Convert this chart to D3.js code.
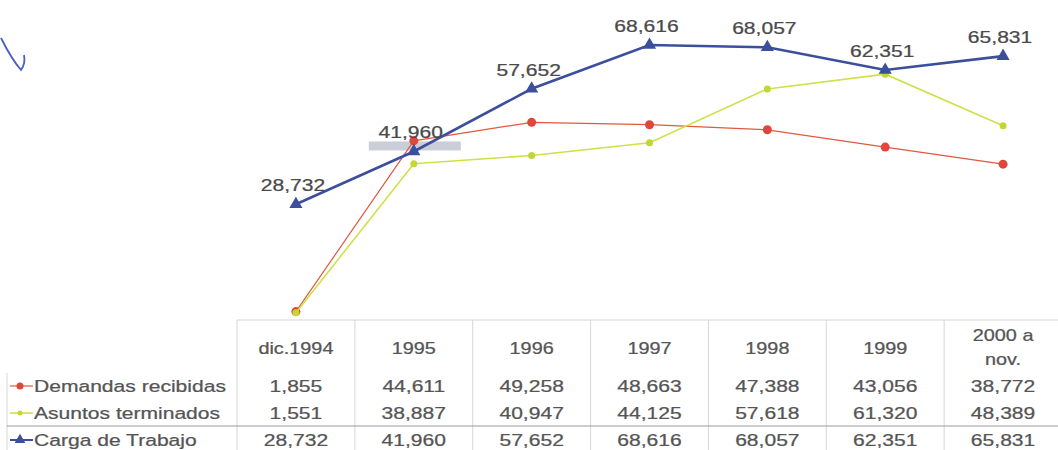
<!DOCTYPE html>
<html>
<head>
<meta charset="utf-8">
<script src="https://cdn.jsdelivr.net/npm/d3@7"></script>
<style>
  body { margin: 0; background: #fff; }
  svg { font-family: "Liberation Sans", Arial, sans-serif; }
</style>
</head>
<body>
<svg id="chart"></svg>
<script>
// Data
const periods = ["dic.1994", "1995", "1996", "1997", "1998", "1999", "2000 a\nnov."];
const seriesNames = ["Demandas recibidas", "Asuntos terminados", "Carga de Trabajo"];
const demandas = [1855, 44611, 49258, 48663, 47388, 43056, 38772];
const asuntos = [1551, 38887, 40947, 44125, 57618, 61320, 48389];
const carga = [28732, 41960, 57652, 68616, 68057, 62351, 65831];

const W = 1058, H = 450;
const stretch = 1.24; // the scan is a bit wider than tall

const svg = d3.select("#chart").attr("width", W).attr("height", H);

const x = d3.scaleBand().domain(periods).range([237, 1062]);
const y = d3.scaleLinear().domain([0, 70000]).range([319, 39.5]);
const cx = d => x(d) + x.bandwidth() / 2;

const fmt = d3.format(",");

function label(g, px, py, str, anchor, size, color) {
    g.append("text")
        .attr("transform", `translate(${px},${py}) scale(${stretch},1)`)
        .attr("text-anchor", anchor)
        .attr("font-size", size)
        .attr("fill", color)
        .attr("stroke", color)
        .attr("stroke-width", 0.25)
        .text(str);
}

// hand-drawn tick in the corner of the scan
svg.append("path")
    .attr("d", "M1,38 C8,52 14,62 21,70 C24,66 25,60 24,55")
    .attr("fill", "none")
    .attr("stroke", "#4a5fc0")
    .attr("stroke-width", 1.8);

// grey highlight under the 1995 label
svg.append("rect")
    .attr("x", cx("1995") - 45)
    .attr("y", y(carga[1]) - 10)
    .attr("width", 92)
    .attr("height", 9)
    .attr("fill", "#c9ced9");

const series = [
    { name: seriesNames[0], values: demandas, color: "#e2583f", width: 1.2, marker: "circle", r: 4.5, mcolor: "#e0463a" },
    { name: seriesNames[1], values: asuntos, color: "#cfe04a", width: 1.6, marker: "circle", r: 3.5, mcolor: "#c3d632" },
    { name: seriesNames[2], values: carga, color: "#3c4f9c", width: 2.6, marker: "triangle", r: 6, mcolor: "#3c4f9c" }
];

const line = d3.line().x((d, i) => cx(periods[i])).y(d => y(d));
const tri = d3.symbol().type(d3.symbolTriangle).size(75);

series.forEach(s => {
    svg.append("path")
        .datum(s.values)
        .attr("fill", "none")
        .attr("stroke", s.color)
        .attr("stroke-width", s.width)
        .attr("d", line);

    if (s.marker === "circle") {
        svg.selectAll(null)
            .data(s.values)
            .enter()
            .append("circle")
            .attr("cx", (d, i) => cx(periods[i]))
            .attr("cy", d => y(d))
            .attr("r", s.r)
            .attr("fill", s.mcolor);
    } else {
        svg.selectAll(null)
            .data(s.values)
            .enter()
            .append("path")
            .attr("d", tri)
            .attr("transform", (d, i) => `translate(${cx(periods[i])},${y(d)})`)
            .attr("fill", s.mcolor);
    }
});

// value labels for Carga de Trabajo
const labels = svg.append("g");
carga.forEach((v, i) => {
    label(labels, cx(periods[i]) - 3, y(v) - 13, fmt(v), "middle", "17px", "#4a4a4a");
});

// data table
const table = svg.append("g");
const tableTop = 320, rowY = [386, 413, 440];
const gridColor = "#d6d6d6";

table.append("line")
    .attr("x1", 237).attr("x2", W).attr("y1", tableTop).attr("y2", tableTop)
    .attr("stroke", gridColor);
periods.forEach(p => {
    table.append("line")
        .attr("x1", x(p)).attr("x2", x(p)).attr("y1", tableTop).attr("y2", H)
        .attr("stroke", gridColor);
});
table.append("line")
    .attr("x1", 7).attr("x2", 7).attr("y1", 373).attr("y2", H)
    .attr("stroke", gridColor);
table.append("line")
    .attr("x1", 7).attr("x2", W).attr("y1", 426).attr("y2", 426)
    .attr("stroke", "#9a9aa6").attr("stroke-width", 1.2);

// header
periods.forEach(p => {
    const parts = p.split("\n");
    if (parts.length === 1) {
        label(table, cx(p), 354, parts[0], "middle", "16px", "#555");
    } else {
        label(table, cx(p), 341, parts[0], "middle", "16px", "#555");
        label(table, cx(p), 365, parts[1], "middle", "16px", "#555");
    }
});

// rows
series.forEach((s, r) => {
    const ry = rowY[r];
    table.append("line")
        .attr("x1", 10).attr("x2", 33).attr("y1", ry).attr("y2", ry)
        .attr("stroke", s.color).attr("stroke-width", Math.min(s.width, 2));
    if (s.marker === "circle") {
        table.append("circle").attr("cx", 20).attr("cy", ry).attr("r", s.r - 1).attr("fill", s.mcolor);
    } else {
        table.append("path").attr("d", d3.symbol().type(d3.symbolTriangle).size(50))
            .attr("transform", `translate(20,${ry})`).attr("fill", s.mcolor);
    }
    label(table, 34, ry + 6, s.name, "start", "17px", "#555");
    s.values.forEach((v, i) => {
        label(table, cx(periods[i]), ry + 6, fmt(v), "middle", "17px", "#555");
    });
});
</script>
</body>
</html>
